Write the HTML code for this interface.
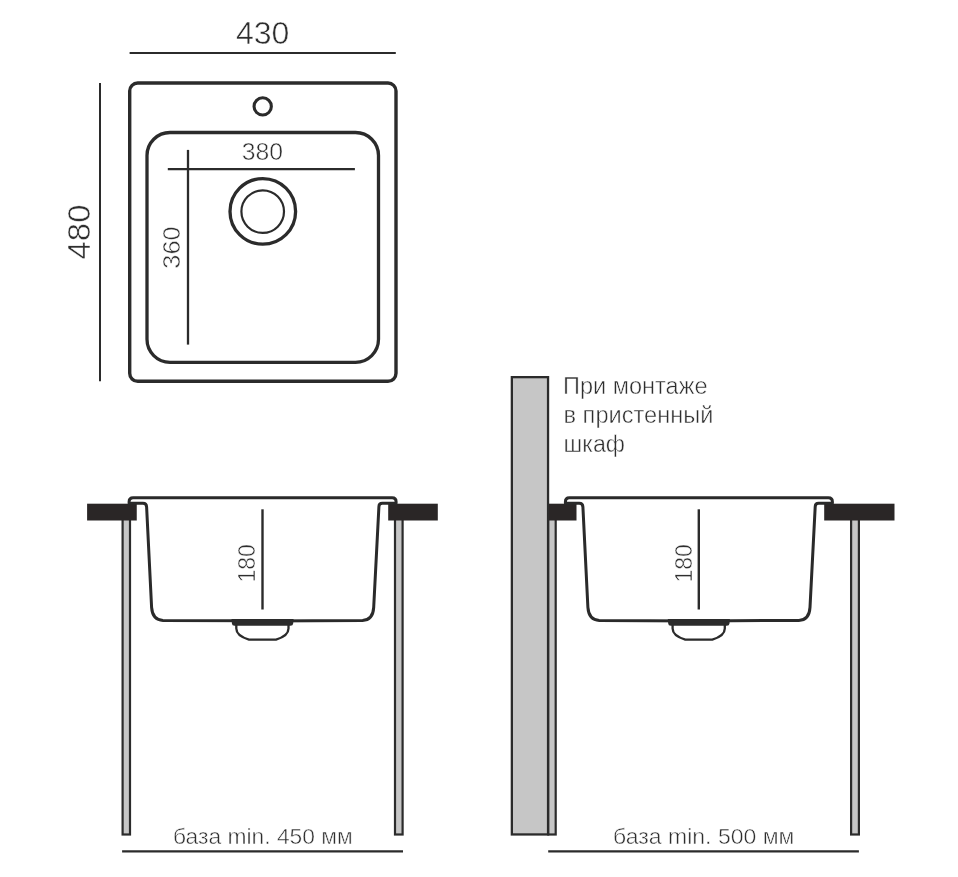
<!DOCTYPE html>
<html><head><meta charset="utf-8">
<style>
html,body{margin:0;padding:0;background:#fff;}
body{width:958px;height:877px;overflow:hidden;}
svg{display:block;will-change:transform;}
text{font-family:"Liberation Sans",sans-serif;fill:#2e2e2e;stroke:#fff;stroke-width:0.5px;paint-order:fill stroke;}
</style></head>
<body>
<svg width="958" height="877" viewBox="0 0 958 877">
<g fill="none" stroke="#2b2b2b" stroke-linecap="butt">
  <!-- top view -->
  <line x1="129.6" y1="53" x2="395.8" y2="53" stroke-width="2.2"/>
  <line x1="100" y1="82.9" x2="100" y2="381.3" stroke-width="2"/>
  <rect x="129.7" y="83" width="266.3" height="298.3" rx="8" stroke-width="3.4"/>
  <circle cx="262.7" cy="106.4" r="8.65" stroke-width="3.1"/>
  <rect x="147" y="132.5" width="231.5" height="229.8" rx="23" stroke-width="3.3"/>
  <line x1="167.8" y1="169.2" x2="354.9" y2="169.2" stroke-width="2.2"/>
  <line x1="188" y1="149.9" x2="188" y2="344.6" stroke-width="2.3"/>
  <circle cx="262.8" cy="211.4" r="32.8" stroke-width="3.3"/>
  <circle cx="262.7" cy="211.6" r="21.3" stroke-width="2.2"/>
</g>
<text x="262.7" y="44.3" font-size="31" text-anchor="middle" textLength="53.5" lengthAdjust="spacingAndGlyphs">430</text>
<text x="262.3" y="160" font-size="23.3" text-anchor="middle" textLength="41.3" lengthAdjust="spacingAndGlyphs">380</text>
<text transform="translate(180.1 247.6) rotate(-90)" font-size="23" text-anchor="middle" textLength="42.1" lengthAdjust="spacingAndGlyphs">360</text>
<text transform="translate(89.6 232) rotate(-90)" font-size="31" text-anchor="middle" textLength="54.8" lengthAdjust="spacingAndGlyphs">480</text>

<!-- left section -->
<g>
  <rect x="122.6" y="515" width="7.4" height="319.5" fill="#c6c6c6" stroke="#2b2b2b" stroke-width="2.2"/>
  <rect x="395" y="515" width="7.6" height="319.5" fill="#c6c6c6" stroke="#2b2b2b" stroke-width="2.2"/>
  <rect x="87.1" y="503.7" width="49.65" height="16.8" fill="#2a2626"/>
  <rect x="388.2" y="503.7" width="49.6" height="16.8" fill="#2a2626"/>
  <path id="sink" d="M146.6 506.8 Q146.4 503.2 143 503.2 L129.1 503.2 L129.1 501.8 Q129.1 497.8 133.1 497.8 L392.1 497.8 Q396.1 497.8 396.1 501.8 L396.1 503.2 L382.3 503.2 Q378.9 503.2 378.9 506.8 L373.7 607.4 C373.2 616 369.5 620.2 362.5 620.4 L262.6 620.9 L163 620.4 C156 620.2 152.2 616 151.6 607.4 Z" fill="#fff" stroke="#2a2a2a" stroke-width="3" stroke-linejoin="round"/>
  <path d="M231.5 619 L293.6 619 L293.2 623.5 Q293 625.8 290.5 625.8 L234.5 625.8 Q232 625.8 231.9 623.5 Z" fill="#2b2b2b"/>
  <path d="M236.3 625 L236.3 628.5 C236.3 634 242 637.5 249 639.6 L276 639.6 C283 637.5 288.5 634 288.5 628.5 L288.5 625" fill="none" stroke="#2b2b2b" stroke-width="2.3"/>
  <line x1="262.5" y1="509.3" x2="262.5" y2="609.5" stroke="#2b2b2b" stroke-width="2.4"/>
  <text transform="translate(255.3 563.3) rotate(-90)" font-size="23" text-anchor="middle">180</text>
  <line x1="122.1" y1="851.3" x2="403" y2="851.3" stroke="#2b2b2b" stroke-width="2.2"/>
  <text x="173" y="843.9" font-size="22.5" textLength="179.7" lengthAdjust="spacingAndGlyphs">база min. 450 мм</text>
</g>
<!-- right section -->
<g>
  <rect x="511.85" y="377.15" width="36.2" height="457.3" fill="#c6c6c6" stroke="#2b2b2b" stroke-width="2.3"/>
  <rect x="548.3" y="515" width="7.4" height="319.5" fill="#c6c6c6" stroke="#2b2b2b" stroke-width="2.2"/>
  <rect x="851.1" y="515" width="7.8" height="319.5" fill="#c6c6c6" stroke="#2b2b2b" stroke-width="2.2"/>
  <rect x="549" y="503.7" width="27.5" height="16.8" fill="#2a2626"/>
  <rect x="824.2" y="503.7" width="70.3" height="16.8" fill="#2a2626"/>
  <g transform="translate(436.3 0)">
  <path d="M146.6 506.8 Q146.4 503.2 143 503.2 L129.1 503.2 L129.1 501.8 Q129.1 497.8 133.1 497.8 L392.1 497.8 Q396.1 497.8 396.1 501.8 L396.1 503.2 L382.3 503.2 Q378.9 503.2 378.9 506.8 L373.7 607.4 C373.2 616 369.5 620.2 362.5 620.4 L262.6 620.9 L163 620.4 C156 620.2 152.2 616 151.6 607.4 Z" fill="#fff" stroke="#2a2a2a" stroke-width="3" stroke-linejoin="round"/>
  <path d="M231.5 619 L293.6 619 L293.2 623.5 Q293 625.8 290.5 625.8 L234.5 625.8 Q232 625.8 231.9 623.5 Z" fill="#2b2b2b"/>
  <path d="M236.3 625 L236.3 628.5 C236.3 634 242 637.5 249 639.6 L276 639.6 C283 637.5 288.5 634 288.5 628.5 L288.5 625" fill="none" stroke="#2b2b2b" stroke-width="2.3"/>
  <line x1="262.5" y1="509.3" x2="262.5" y2="609.5" stroke="#2b2b2b" stroke-width="2.4"/>
  <text transform="translate(255.3 563.3) rotate(-90)" font-size="23" text-anchor="middle">180</text>
  </g>
  <line x1="548.2" y1="851.3" x2="858.9" y2="851.3" stroke="#2b2b2b" stroke-width="2.2"/>
  <text x="613" y="843.9" font-size="22.5" textLength="181.4" lengthAdjust="spacingAndGlyphs">база min. 500 мм</text>
  <text x="563" y="393.7" font-size="23.5" textLength="144.6" lengthAdjust="spacingAndGlyphs">При монтаже</text>
  <text x="563.5" y="422.9" font-size="23.5" textLength="149.9" lengthAdjust="spacingAndGlyphs">в пристенный</text>
  <text x="563.5" y="452" font-size="23.5" textLength="61.5" lengthAdjust="spacingAndGlyphs">шкаф</text>
</g>
</svg>
</body></html>
